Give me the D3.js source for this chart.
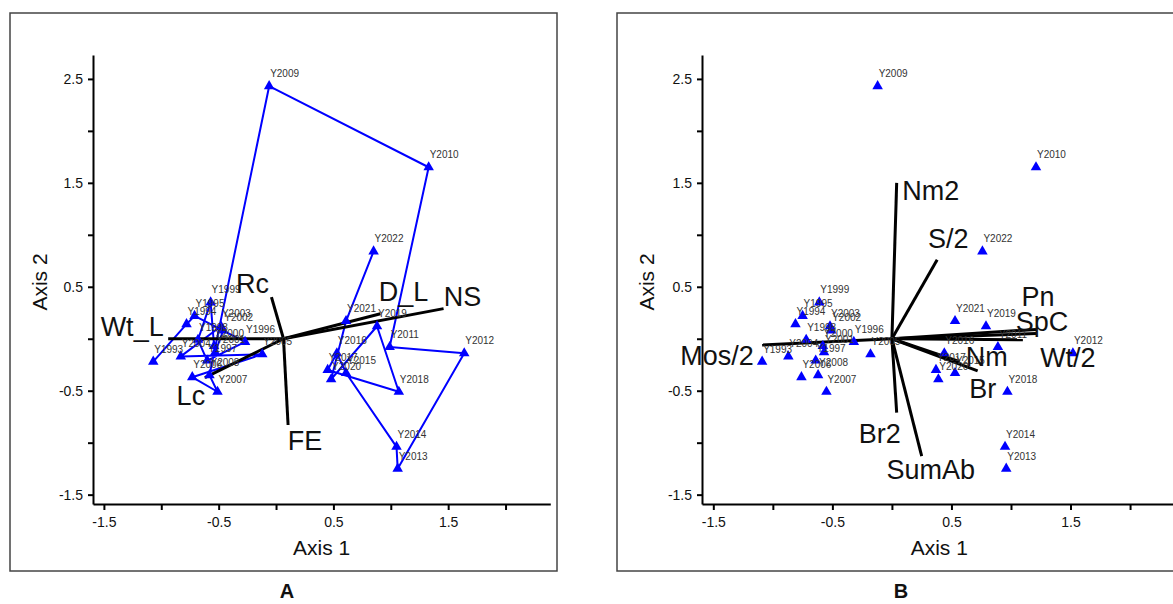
<!DOCTYPE html>
<html>
<head>
<meta charset="utf-8">
<script src="https://cdn.jsdelivr.net/npm/d3@7"></script>
<style>
  body { margin: 0; background: #fff; }
  svg { display: block; font-family: "Liberation Sans", Arial, sans-serif; }
</style>
</head>
<body>
<svg id="chart" width="1173" height="604"></svg>
<script>
"use strict";

// ---------------------------------------------------------------------------
// Data (ordination scores)
// ---------------------------------------------------------------------------

const years = [
  "Y1993", "Y1994", "Y1995", "Y1996", "Y1997", "Y1998", "Y1999", "Y2000",
  "Y2001", "Y2002", "Y2003", "Y2004", "Y2005", "Y2006", "Y2007", "Y2008",
  "Y2009", "Y2010", "Y2011", "Y2012", "Y2013", "Y2014", "Y2015", "Y2016",
  "Y2017", "Y2018", "Y2019", "Y2020", "Y2021", "Y2022"
];

// Axis 1 as labelled on panel A
const axis1A = [
  -1.07, -0.78, -0.71, -0.27, -0.60, -0.68, -0.57, -0.54,
  -0.53, -0.46, -0.48, -0.83, -0.12, -0.73, -0.51, -0.58,
  -0.06, 1.33, 0.99, 1.64, 1.06, 1.05, 0.61, 0.53,
  0.45, 1.07, 0.88, 0.48, 0.61, 0.85
];

// Axis 1 as labelled on panel B
const axis1B = [
  -1.09, -0.81, -0.75, -0.32, -0.64, -0.72, -0.61, -0.58,
  -0.57, -0.51, -0.52, -0.87, -0.18, -0.76, -0.55, -0.62,
  -0.12, 1.21, 0.89, 1.52, 0.96, 0.95, 0.53, 0.44,
  0.37, 0.97, 0.79, 0.39, 0.53, 0.76
];

const axis2 = [
  -0.22, 0.14, 0.22, -0.03, -0.21, -0.01, 0.35, -0.07,
  -0.13, 0.08, 0.12, -0.17, -0.15, -0.37, -0.51, -0.35,
  2.43, 1.65, -0.08, -0.14, -1.25, -1.04, -0.33, -0.14,
  -0.30, -0.51, 0.12, -0.39, 0.17, 0.84
];

// Joint-plot vectors, panel A (environmental variables)
const vectorNamesA = ["Rc", "Wt_L", "Lc", "FE", "D_L", "NS"];
const vectorAxis1A = [-0.04, -0.94, -0.62, 0.105, 0.91, 1.46];
const vectorAxis2A = [0.40, 0.00, -0.375, -0.83, 0.24, 0.29];
const originA = [0.065, 0];

// Joint-plot vectors, panel B
const vectorNamesB = ["Nm2", "S/2", "Pn", "SpC", "Wt/2", "Nm", "Br", "Mos/2", "Br2", "SumAb"];
const vectorAxis1B = [0.04, 0.38, 1.21, 1.21, 1.10, 0.72, 0.57, -1.09, 0.04, 0.25];
const vectorAxis2B = [1.50, 0.76, 0.09, 0.05, -0.01, -0.31, -0.22, -0.06, -0.71, -1.13];
const originB = [0, 0];

// Axis ticks
const xTicks = [-1.5, -1, -0.5, 0, 0.5, 1, 1.5, 2];
const xTickLabels = [-1.5, -0.5, 0.5, 1.5];
const yTicks = [-1.5, -1, -0.5, 0, 0.5, 1, 1.5, 2, 2.5];
const yTickLabels = [-1.5, -0.5, 0.5, 1.5, 2.5];

const xDomain = [-1.595, 2.39];
const yDomain = [-1.59, 2.73];

// ---------------------------------------------------------------------------
// Layout / styles
// ---------------------------------------------------------------------------

const BLUE = "#0000ff";

// label offsets (px) from the vector tip: [dx, dy] for centre / baseline
const labelOffsetsA = {
  "Rc": [-19, -4], "Wt_L": [-36, -3], "Lc": [-14, 27],
  "FE": [17, 25], "D_L": [23, -13], "NS": [19, -3]
};
const labelOffsetsB = {
  "Nm2": [34, 17], "S/2": [11, -12], "Pn": [2, -23], "SpC": [6, -3],
  "Wt/2": [45, 27], "Nm": [9, -5], "Br": [23, 36], "Mos/2": [-45, 20],
  "Br2": [-17, 30], "SumAb": [9, 23]
};

const panels = [
  {
    letter: "A", frame: [10, 13, 547, 558], xRange: [93, 550.3], yRange: [504, 55],
    axis1: axis1A, path: true,
    vectors: { names: vectorNamesA, a1: vectorAxis1A, a2: vectorAxis2A, origin: originA, offsets: labelOffsetsA },
    letterX: 287
  },
  {
    letter: "B", frame: [617, 13, 580, 558], xRange: [702, 1176.5], yRange: [504, 55],
    axis1: axis1B, path: false,
    vectors: { names: vectorNamesB, a1: vectorAxis1B, a2: vectorAxis2B, origin: originB, offsets: labelOffsetsB },
    letterX: 901
  }
];

// ---------------------------------------------------------------------------
// Drawing
// ---------------------------------------------------------------------------

const svg = d3.select("#chart");
svg.append("rect").attr("width", 1173).attr("height", 604).attr("fill", "#fff");

function drawPanel(p) {
  const g = svg.append("g");
  const x = d3.scaleLinear().domain(xDomain).range(p.xRange);
  const y = d3.scaleLinear().domain(yDomain).range(p.yRange);

  // frame
  g.append("rect")
    .attr("x", p.frame[0]).attr("y", p.frame[1])
    .attr("width", p.frame[2]).attr("height", p.frame[3])
    .attr("fill", "none").attr("stroke", "#444").attr("stroke-width", 1.5);

  // axes
  const xAxis = d3.axisBottom(x).tickValues(xTicks).tickSize(6).tickSizeOuter(0).tickPadding(7)
    .tickFormat((d) => (xTickLabels.includes(d) ? String(d) : ""));
  const yAxis = d3.axisLeft(y).tickValues(yTicks).tickSize(5).tickSizeOuter(0).tickPadding(5)
    .tickFormat((d) => (yTickLabels.includes(d) ? String(d) : ""));

  const gx = g.append("g").attr("transform", `translate(0,${p.yRange[0]})`).call(xAxis);
  const gy = g.append("g").attr("transform", `translate(${p.xRange[0]},0)`).call(yAxis);
  [gx, gy].forEach((ax) => {
    ax.select(".domain").attr("stroke", "#000").attr("stroke-width", 2);
    ax.selectAll(".tick line").attr("stroke", "#000").attr("stroke-width", 2);
    ax.selectAll(".tick text").attr("font-size", 14).attr("fill", "#111")
      .attr("font-family", "'Liberation Sans', Arial, sans-serif");
  });

  const xMid = (p.xRange[0] + p.xRange[1]) / 2;
  g.append("text").attr("x", xMid).attr("y", 555).attr("text-anchor", "middle")
    .attr("font-size", 21).attr("fill", "#111").text("Axis 1");
  g.append("text")
    .attr("transform", `translate(${p.frame[0] + 37},282) rotate(-90)`)
    .attr("text-anchor", "middle").attr("font-size", 21).attr("fill", "#111").text("Axis 2");

  // panel letter
  svg.append("text").attr("x", p.letterX).attr("y", 598).attr("text-anchor", "middle")
    .attr("font-size", 20).attr("font-weight", "bold").attr("fill", "#111").text(p.letter);

  const pts = years.map((yr, i) => ({ yr, a1: p.axis1[i], a2: axis2[i] }));

  // trajectory
  if (p.path) {
    g.append("path").datum(pts)
      .attr("d", d3.line().x((d) => x(d.a1)).y((d) => y(d.a2)))
      .attr("fill", "none").attr("stroke", BLUE).attr("stroke-width", 2)
      .attr("stroke-linejoin", "round");
  }

  // vectors
  const v = p.vectors;
  const vecs = v.names.map((name, i) => ({ name, a1: v.a1[i], a2: v.a2[i] }));
  g.selectAll("line.vec").data(vecs).join("line")
    .attr("x1", x(v.origin[0])).attr("y1", y(v.origin[1]))
    .attr("x2", (d) => x(d.a1)).attr("y2", (d) => y(d.a2))
    .attr("stroke", "#000").attr("stroke-width", 3);

  // points
  g.selectAll("path.pt").data(pts).join("path")
    .attr("transform", (d) => `translate(${x(d.a1)},${y(d.a2)})`)
    .attr("d", d3.symbol(d3.symbolTriangle, 48))
    .attr("fill", BLUE);

  g.selectAll("text.pt").data(pts).join("text")
    .attr("x", (d) => x(d.a1) + 1).attr("y", (d) => y(d.a2) - 9)
    .attr("font-size", 10).attr("fill", "#333").text((d) => d.yr);

  // vector labels
  g.selectAll("text.vec").data(vecs).join("text")
    .attr("x", (d) => x(d.a1) + v.offsets[d.name][0])
    .attr("y", (d) => y(d.a2) + v.offsets[d.name][1])
    .attr("text-anchor", "middle").attr("font-size", 27).attr("fill", "#111")
    .text((d) => d.name);
}

panels.forEach(drawPanel);
</script>
</body>
</html>
